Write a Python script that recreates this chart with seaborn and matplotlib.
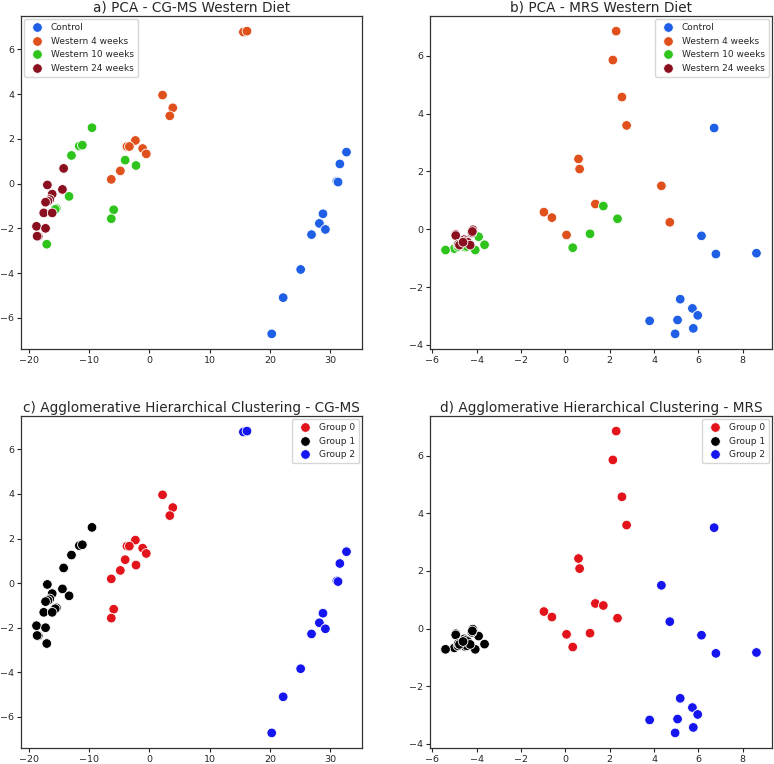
import pandas as pd
import seaborn as sns
import matplotlib.pyplot as plt

# PCA scores, CG-MS
cg_control_x = [32.7, 31.6, 31.1, 31.3, 28.8, 28.2, 29.2, 26.9, 25.1, 22.2, 20.3]
cg_control_y = [1.41, 0.88, 0.10, 0.07, -1.35, -1.78, -2.05, -2.28, -3.84, -5.10, -6.72]
cg_w4_x = [15.6, 16.2, 2.2, 3.9, 3.4, -2.3, -3.7, -3.3, -1.1, -0.5, -4.8, -6.3]
cg_w4_y = [6.78, 6.82, 3.96, 3.39, 3.03, 1.93, 1.66, 1.66, 1.57, 1.33, 0.57, 0.19]
cg_w10_x = [-9.5, -11.6, -11.1, -12.9, -4.0, -2.2, -13.3, -15.4, -15.6, -5.9, -6.3, -17.0]
cg_w10_y = [2.50, 1.68, 1.72, 1.26, 1.05, 0.81, -0.57, -1.11, -1.15, -1.17, -1.57, -2.71]
cg_w24_x = [-14.2, -16.9, -14.4, -16.1, -16.5, -16.8, -17.2, -17.5, -16.1, -18.7, -17.2, -18.4, -18.6]
cg_w24_y = [0.68, -0.06, -0.26, -0.47, -0.71, -0.78, -0.83, -1.31, -1.31, -1.91, -2.00, -2.36, -2.35]

# cluster labels, CG-MS (same order as above)
cg_control_grp = [2] * 11
cg_w4_grp = [2, 2, 0, 0, 0, 0, 0, 0, 0, 0, 0, 0]
cg_w10_grp = [1, 1, 1, 1, 0, 0, 1, 1, 1, 0, 0, 1]
cg_w24_grp = [1] * 13

# PCA scores, MRS
mrs_control_x = [6.71, 6.14, 6.79, 8.62, 5.18, 5.73, 5.97, 3.80, 5.06, 5.77, 4.95]
mrs_control_y = [3.50, -0.23, -0.86, -0.83, -2.42, -2.74, -2.98, -3.17, -3.14, -3.43, -3.62]
mrs_w4_x = [2.29, 2.14, 2.55, 2.76, 0.59, 0.64, 4.33, 1.35, -0.97, -0.61, 4.71, 0.05]
mrs_w4_y = [6.85, 5.85, 4.57, 3.59, 2.43, 2.08, 1.50, 0.87, 0.59, 0.40, 0.24, -0.20]
mrs_w10_x = [1.71, 2.35, 1.11, 0.33, -3.92, -3.65, -4.07, -4.53, -5.01, -5.41, -4.45, -4.85]
mrs_w10_y = [0.80, 0.36, -0.16, -0.64, -0.26, -0.54, -0.72, -0.62, -0.67, -0.72, -0.60, -0.60]
mrs_w24_x = [-4.95, -4.95, -4.18, -4.22, -4.20, -4.83, -4.78, -4.56, -4.48, -4.41, -4.30, -4.62]
mrs_w24_y = [-0.18, -0.22, -0.02, -0.13, -0.08, -0.52, -0.55, -0.36, -0.40, -0.45, -0.55, -0.45]

mrs_control_grp = [2] * 11
mrs_w4_grp = [0, 0, 0, 0, 0, 0, 2, 0, 0, 0, 2, 0]
mrs_w10_grp = [0, 0, 0, 0, 1, 1, 1, 1, 1, 1, 1, 1]
mrs_w24_grp = [1] * 12

diets = ["Control", "Western 4 weeks", "Western 10 weeks", "Western 24 weeks"]
groups = ["Group 0", "Group 1", "Group 2"]
diet_colors = ["#1f5fe6", "#e0501c", "#2ec41c", "#8a0f1f"]
group_colors = ["#e3131b", "#000000", "#1515f0"]


def build(xs, ys, grps):
    rows = []
    for diet, x, y, g in zip(diets, xs, ys, grps):
        for xi, yi, gi in zip(x, y, g):
            rows.append({"pc1": xi, "pc2": yi, "diet": diet, "cluster": groups[gi]})
    return pd.DataFrame(rows)


cg = build([cg_control_x, cg_w4_x, cg_w10_x, cg_w24_x],
           [cg_control_y, cg_w4_y, cg_w10_y, cg_w24_y],
           [cg_control_grp, cg_w4_grp, cg_w10_grp, cg_w24_grp])
mrs = build([mrs_control_x, mrs_w4_x, mrs_w10_x, mrs_w24_x],
            [mrs_control_y, mrs_w4_y, mrs_w10_y, mrs_w24_y],
            [mrs_control_grp, mrs_w4_grp, mrs_w10_grp, mrs_w24_grp])

sns.set_style("ticks")
plt.rcParams["font.family"] = ["DejaVu Sans"]

fig = plt.figure(figsize=(7.74, 7.64), dpi=100)
W, H = 774, 764


def box(l, r, t, b):
    return [l / W, 1 - b / H, (r - l) / W, (b - t) / H]


ax_a = fig.add_axes(box(21, 362, 16, 349))
ax_b = fig.add_axes(box(430, 772, 16, 349))
ax_c = fig.add_axes(box(21, 362, 416, 748))
ax_d = fig.add_axes(box(430, 772, 416, 748))

panels = [
    (ax_a, cg, "diet", diets, diet_colors, "a) PCA - CG-MS Western Diet", "upper left"),
    (ax_b, mrs, "diet", diets, diet_colors, "b) PCA - MRS Western Diet", "upper right"),
    (ax_c, cg, "cluster", groups, group_colors,
     "c) Agglomerative Hierarchical Clustering - CG-MS", "upper right"),
    (ax_d, mrs, "cluster", groups, group_colors,
     "d) Agglomerative Hierarchical Clustering - MRS", "upper right"),
]

for ax, df, hue, order, colors, title, loc in panels:
    sns.scatterplot(data=df, x="pc1", y="pc2", hue=hue, hue_order=order,
                    palette=colors, s=48, edgecolor="white", linewidth=0.6, ax=ax)
    ax.set_xlabel("")
    ax.set_ylabel("")
    ax.set_title(title, fontsize=9.8, pad=3)
    ax.tick_params(labelsize=6.8, length=3, width=0.8, pad=2)
    for sp in ax.spines.values():
        sp.set_color("#333333")
        sp.set_linewidth(0.9)
    sns.move_legend(ax, loc, title=None, fontsize=6.5, frameon=True,
                    handletextpad=0.5, borderpad=0.45, labelspacing=0.5,
                    markerscale=1.0, borderaxespad=0.35)

ax_a.set_xticks([-20, -10, 0, 10, 20, 30])
ax_c.set_xticks([-20, -10, 0, 10, 20, 30])
ax_a.set_yticks([-6, -4, -2, 0, 2, 4, 6])
ax_c.set_yticks([-6, -4, -2, 0, 2, 4, 6])
ax_b.set_xticks([-6, -4, -2, 0, 2, 4, 6, 8])
ax_d.set_xticks([-6, -4, -2, 0, 2, 4, 6, 8])
ax_b.set_yticks([-4, -2, 0, 2, 4, 6])
ax_d.set_yticks([-4, -2, 0, 2, 4, 6])

plt.savefig("out.png", dpi=100)
